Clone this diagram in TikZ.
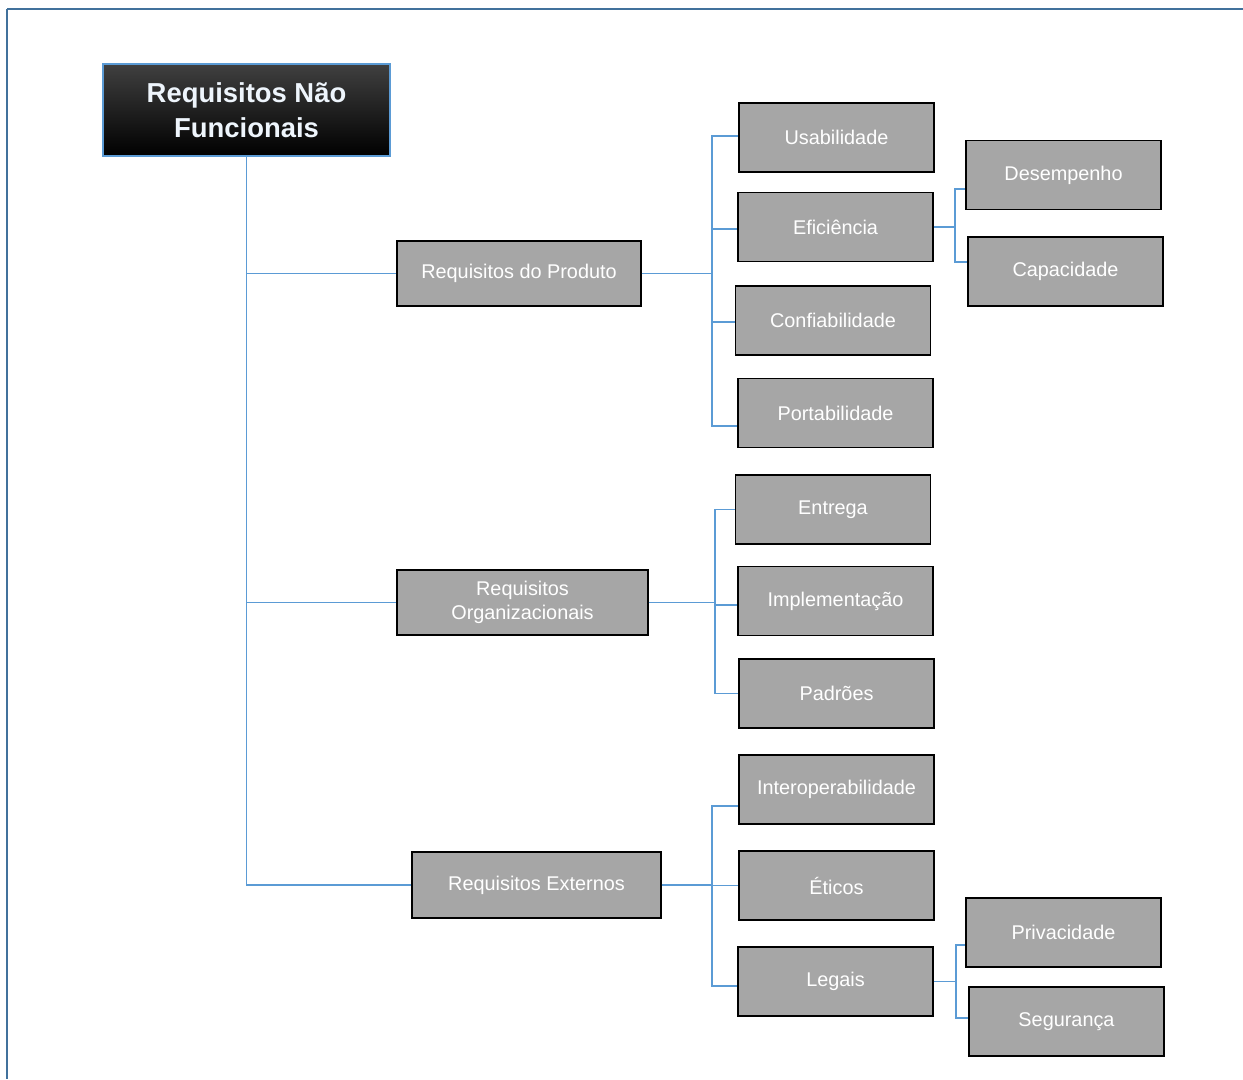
\documentclass[tikz,border=0pt]{standalone}
\usepackage{fontspec}
\setmainfont{Liberation Sans}
\usepackage{xcolor}
\usepackage{tikz}
\usetikzlibrary{calc}
\definecolor{linkblue}{HTML}{5B9BD5}
\definecolor{framblue}{HTML}{41719C}
\definecolor{boxgray}{HTML}{A6A6A6}
\definecolor{titlewhite}{HTML}{EEF5FC}

\begin{document}
\begin{tikzpicture}[
  x=1cm, y=-1cm,
  leaf/.style={draw=black, line width=1.1pt, fill=boxgray, text=white, align=center, minimum width=3.9cm, minimum height=1.38cm, inner sep=0pt, font=\fontsize{11.3}{13.5}\selectfont},
  group/.style={leaf, minimum height=1.3cm},
  rootbox/.style={draw=linkblue, line width=1.1pt, top color=black!75, bottom color=black, text=titlewhite, align=center, minimum width=5.74cm, minimum height=1.84cm, inner sep=0pt, font=\fontsize{15.6}{19.8}\selectfont\bfseries},
  link/.style={draw=linkblue, line width=0.6pt},
  frameline/.style={draw=framblue}
]
\useasboundingbox (0,0) rectangle (24.86,21.58);
\draw[frameline, line width=1.1pt] (0.14,0.18) -- (24.86,0.18);
\draw[frameline, line width=0.6pt] (0.14,0.18) -- (0.14,21.58);

\node[rootbox] (root) at (4.93,2.20) {Requisitos Não\\Funcionais};

\node[group, minimum width=4.88cm] (produto) at (10.38,5.47) {Requisitos do Produto};
\node[group, minimum width=5.02cm] (organiz) at (10.45,12.05) {Requisitos\\Organizacionais};
\node[group, minimum width=4.98cm, minimum height=1.32cm] (externo) at (10.73,17.70) {Requisitos Externos};

\node[leaf] (usab) at (16.73,2.75) {Usabilidade};
\node[leaf] (efic) at (16.71,4.54) {Eficiência};
\node[leaf] (confi) at (16.66,6.41) {Confiabilidade};
\node[leaf] (porta) at (16.71,8.26) {Portabilidade};
\node[leaf] (entrega) at (16.66,10.19) {Entrega};
\node[leaf] (implem) at (16.71,12.02) {Implementação};
\node[leaf] (padroes) at (16.73,13.87) {Padrões};
\node[leaf] (interop) at (16.73,15.79) {Interoperabilidade};
\node[leaf] (eticos) at (16.73,17.71) {Éticos};
\node[leaf] (legais) at (16.71,19.63) {Legais};

\node[leaf] (desemp) at (21.27,3.50) {Desempenho};
\node[leaf] (capac) at (21.31,5.43) {Capacidade};
\node[leaf] (privac) at (21.27,18.65) {Privacidade};
\node[leaf] (segur) at (21.33,20.43) {Segurança};

% root to groups
\draw[link] (root.south) |- (produto.west);
\draw[link] (root.south) |- (organiz.west);
\draw[link] (root.south) |- (externo.west);

% groups to leaves (branch heights as in the drawing)
\foreach \kid/\dy in {usab/-0.03,efic/0.04,confi/0.03,porta/0.26}
  \draw[link] (produto.east) -- ++(1.40,0) |- ($(\kid.west)+(0,\dy)$);
\foreach \kid/\dy in {entrega/0,implem/0.08,padroes/0}
  \draw[link] (organiz.east) -- ++(1.32,0) |- ($(\kid.west)+(0,\dy)$);
\foreach \kid/\dy in {interop/0.33,eticos/0,legais/0.09}
  \draw[link] (externo.east) -- ++(1.00,0) |- ($(\kid.west)+(0,\dy)$);

% second level
\foreach \kid/\dy in {desemp/0.28,capac/-0.19}
  \draw[link] (efic.east) -- ++(0.42,0) |- ($(\kid.west)+(0,\dy)$);
\foreach \kid/\dy in {privac/0.25,segur/-0.07}
  \draw[link] (legais.east) -- ++(0.44,0) |- ($(\kid.west)+(0,\dy)$);
\end{tikzpicture}
\end{document}
